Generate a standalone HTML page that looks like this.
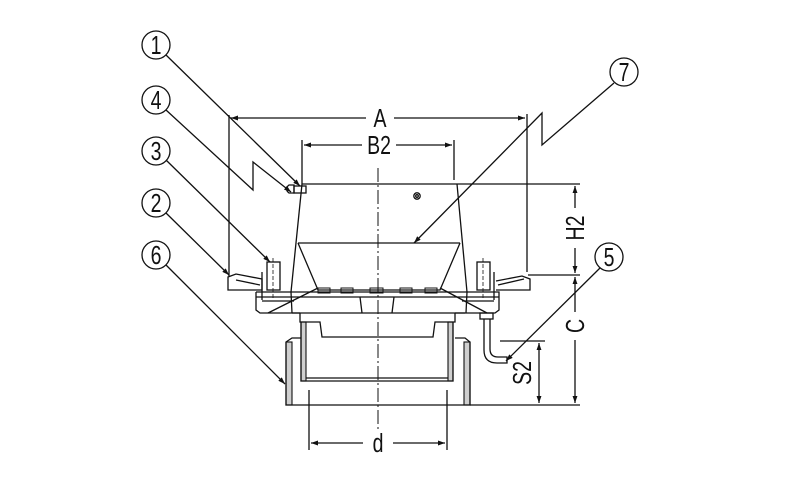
<!DOCTYPE html>
<html><head><meta charset="utf-8"><style>
html,body{margin:0;padding:0;background:#fff;}
svg{display:block;}
text{font-family:"Liberation Sans",sans-serif;fill:#111;}
</style></head><body>
<svg width="800" height="477" viewBox="0 0 800 477" xmlns="http://www.w3.org/2000/svg">
<defs>
<marker id="ar" viewBox="0 0 10 10" refX="10" refY="5" markerWidth="11" markerHeight="7" orient="auto-start-reverse" markerUnits="userSpaceOnUse"><path d="M0,1.5 L10,5 L0,8.5z" fill="#111"/></marker>
</defs>
<g stroke="#111" stroke-width="1.3" fill="none">
<!-- gray walls -->
<g fill="#cfcfcf" stroke-width="1.1">
<rect x="286" y="342" width="6" height="63"/>
<rect x="464" y="342" width="6" height="63"/>
<rect x="301" y="322" width="5" height="59"/>
<rect x="448" y="322" width="5" height="59"/>
</g>
<!-- center line -->
<line x1="378" y1="168" x2="378" y2="430" stroke-dasharray="14,3,2,3" stroke-width="1"/>
<!-- dimension A -->
<line x1="229" y1="115" x2="229" y2="276"/>
<line x1="527" y1="114" x2="527" y2="272"/>
<line x1="366" y1="118" x2="231" y2="118" marker-end="url(#ar)"/>
<line x1="394" y1="118" x2="525" y2="118" marker-end="url(#ar)"/>
<!-- B2 -->
<line x1="302" y1="140" x2="302" y2="184"/>
<line x1="454" y1="140" x2="454" y2="180"/>
<line x1="362" y1="145" x2="304" y2="145" marker-end="url(#ar)"/>
<line x1="396" y1="145" x2="452" y2="145" marker-end="url(#ar)"/>
<!-- ext lines -->
<line x1="302" y1="184" x2="580" y2="184"/>
<line x1="528" y1="275" x2="580" y2="275"/>
<line x1="470" y1="405" x2="580" y2="405"/>
<line x1="500" y1="341" x2="545" y2="341"/>
<!-- H2 -->
<line x1="575" y1="208" x2="575" y2="186" marker-end="url(#ar)"/>
<line x1="575" y1="248" x2="575" y2="273" marker-end="url(#ar)"/>
<!-- C -->
<line x1="575" y1="312" x2="575" y2="277" marker-end="url(#ar)"/>
<line x1="575" y1="340" x2="575" y2="403" marker-end="url(#ar)"/>
<!-- S2 -->
<line x1="539" y1="360" x2="539" y2="343" marker-end="url(#ar)"/>
<line x1="539" y1="360" x2="539" y2="403" marker-end="url(#ar)"/>
<!-- d -->
<line x1="309" y1="390" x2="309" y2="450"/>
<line x1="447" y1="390" x2="447" y2="450"/>
<line x1="363" y1="443" x2="311" y2="443" marker-end="url(#ar)"/>
<line x1="393" y1="443" x2="445" y2="443" marker-end="url(#ar)"/>

<!-- body -->
<path d="M302,184 L291,292"/>
<path d="M457,184 L467,292"/>
<path d="M298,243 L460,243"/>
<path d="M298,243 L318,290 L440,290 L460,243"/>
<g stroke-width="1">
<rect x="318" y="288" width="12" height="5"/><rect x="341" y="288" width="12" height="5"/><rect x="370" y="288" width="13" height="5"/><rect x="400" y="288" width="12" height="5"/><rect x="425" y="288" width="12" height="5"/>
</g>
<!-- screw -->
<path d="M289,193 q-5,-4 0,-8 l5,0 l0,8z"/>
<rect x="294" y="186" width="12" height="7"/>
<circle cx="417" cy="196" r="3.2"/><circle cx="417" cy="196" r="1.3"/>
<!-- flanges -->
<path d="M228,277 L228,290 L262,290 L262,279 L236,274 Z"/>
<path d="M236,280 L260,285"/>
<path d="M496,290 L530,290 L530,279 L522,276 L496,281"/>
<path d="M498,285 L524,279"/>
<path d="M262,272 L262,300 M494,272 L494,300"/>
<!-- bolts -->
<rect x="267" y="262" width="13" height="28"/>
<rect x="477" y="262" width="13" height="28"/>
<line x1="273" y1="258" x2="273" y2="298" stroke-dasharray="4,2" stroke-width="0.8"/>
<line x1="483" y1="258" x2="483" y2="298" stroke-dasharray="4,2" stroke-width="0.8"/>
<!-- base plate -->
<path d="M256,292 L256,310 L260,313 L300,313 M455,313 L495,313 L499,310 L499,292 L256,292"/>
<path d="M256,297 L499,297 M262,301 L294,301 M462,301 L494,301"/>
<path d="M268,313 L318,288 M487,313 L440,288"/>
<path d="M291,292 L292,313 M467,292 L466,313"/>
<path d="M360,297 L362,313 M394,297 L392,313"/>
<path d="M292,313 L465,313"/>
<!-- inner tube -->
<path d="M300,313 L300,322 L320,322 L322,337 L433,337 L435,322 L455,322 L455,313"/>
<path d="M301,322 L301,381 L453,381 L453,322"/>
<path d="M306,378 L448,378"/>
<!-- outer pipe -->
<path d="M286,342 L286,405 L470,405 L470,342 L465,338 L455,338"/>
<path d="M286,342 L292,338 L301,338"/>
<!-- side pipe 5 -->
<path d="M484,319 L484,350 Q484,363 497,363 L507,363 L507,357 L498,357 Q490,357 490,349 L490,319"/>
<rect x="480" y="313" width="13" height="6"/>

<!-- leaders -->
<line x1="166" y1="55" x2="300" y2="186" marker-end="url(#ar)"/>
<polyline points="166,110 253,190 253,162 291,192" marker-end="url(#ar)"/>
<line x1="166" y1="160" x2="270" y2="262" marker-end="url(#ar)"/>
<line x1="166" y1="213" x2="229" y2="275" marker-end="url(#ar)"/>
<line x1="166" y1="265" x2="285" y2="384" marker-end="url(#ar)"/>
<polyline points="614,83 542,145 542,113 414,243" marker-end="url(#ar)"/>
<line x1="600" y1="268" x2="506" y2="361" marker-end="url(#ar)"/>

<!-- circles -->
<circle cx="156" cy="45" r="14"/>
<circle cx="156" cy="100" r="14"/>
<circle cx="156" cy="151" r="14"/>
<circle cx="156" cy="203" r="14"/>
<circle cx="156" cy="255" r="14"/>
<circle cx="624" cy="72" r="14"/>
<circle cx="609" cy="257" r="14"/>
</g>
<g font-size="26" text-anchor="middle">
<text transform="translate(156,54) scale(0.75,1)">1</text>
<text transform="translate(156,109) scale(0.75,1)">4</text>
<text transform="translate(156,160) scale(0.75,1)">3</text>
<text transform="translate(156,212) scale(0.75,1)">2</text>
<text transform="translate(156,264) scale(0.75,1)">6</text>
<text transform="translate(624,81) scale(0.75,1)">7</text>
<text transform="translate(609,266) scale(0.75,1)">5</text>
<text transform="translate(380,127) scale(0.75,1)">A</text>
<text transform="translate(379,154) scale(0.75,1)">B2</text>
<text transform="translate(378,452) scale(0.75,1)">d</text>
<text transform="translate(584,228) rotate(-90) scale(0.75,1)">H2</text>
<text transform="translate(584,326) rotate(-90) scale(0.75,1)">C</text>
<text transform="translate(531,373) rotate(-90) scale(0.75,1)">S2</text>
</g>
</svg>
</body></html>
